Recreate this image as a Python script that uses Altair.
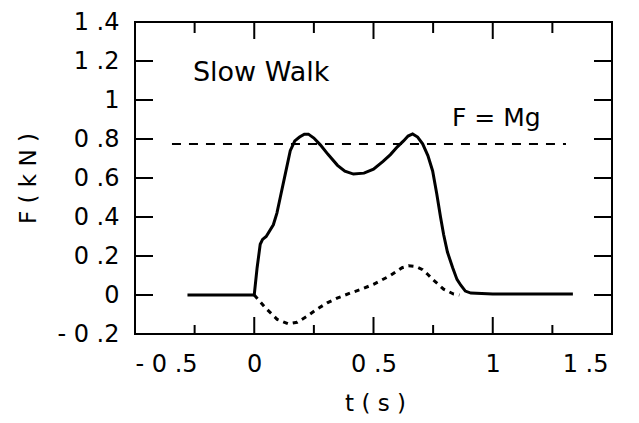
import altair as alt
import pandas as pd

# ---- data ----
solid_t = [-0.28, -0.1, 0.0, 0.012, 0.025, 0.035, 0.05, 0.08, 0.095, 0.109, 0.13, 0.151,
           0.17, 0.19, 0.21, 0.227, 0.25, 0.277, 0.31, 0.349, 0.38, 0.416, 0.46, 0.50,
           0.54, 0.571, 0.60, 0.626, 0.645, 0.664, 0.685, 0.706, 0.728, 0.748, 0.765,
           0.781, 0.794, 0.81, 0.832, 0.85, 0.866, 0.885, 0.908, 1.0, 1.336]
solid_f = [0.0, 0.0, 0.0, 0.14, 0.26, 0.285, 0.30, 0.36, 0.42, 0.50, 0.62, 0.74,
           0.79, 0.81, 0.825, 0.825, 0.805, 0.77, 0.72, 0.665, 0.635, 0.62, 0.625, 0.645,
           0.685, 0.72, 0.76, 0.79, 0.815, 0.826, 0.81, 0.775, 0.715, 0.636, 0.52,
           0.40, 0.31, 0.22, 0.14, 0.08, 0.05, 0.02, 0.01, 0.005, 0.005]

dotted_t = [0.0, 0.046, 0.096, 0.143, 0.18, 0.22, 0.26, 0.306, 0.35, 0.403, 0.45, 0.50,
            0.571, 0.62, 0.647, 0.68, 0.706, 0.728, 0.748, 0.794, 0.836, 0.86]
dotted_f = [0.0, -0.065, -0.125, -0.148, -0.14, -0.11, -0.075, -0.04, -0.015, 0.01, 0.03, 0.055,
            0.10, 0.14, 0.15, 0.145, 0.13, 0.105, 0.08, 0.03, 0.005, 0.0]

mg_t = [-0.345, 1.307]
mg_f = [0.775, 0.775]

x_tick_labels = [-0.5, 0, 0.5, 1, 1.5]
y_tick_labels = [-0.2, 0, 0.2, 0.4, 0.6, 0.8, 1, 1.2, 1.4]
x_major_ticks = [0.0, 0.5, 1.0]
x_minor_ticks = [-0.25, 0.25, 0.75, 1.25]
y_ticks = [0.0, 0.2, 0.4, 0.6, 0.8, 1.0, 1.2]

note_text = ["Slow Walk", "F = Mg"]
note_t = [-0.257, 0.829]
note_f = [1.141, 0.908]

# ---- chart ----
W, H = 477, 312
FONT = "DejaVu Sans"
spaced = "replace(replace('' + datum.value, '-', '- '), '.', ' .')"

xs = alt.Scale(domain=[-0.5, 1.5], nice=False, zero=False)
ys = alt.Scale(domain=[-0.2, 1.4], nice=False, zero=False)

xa = alt.Axis(values=x_tick_labels, labelExpr=spaced, labelFont=FONT, labelFontSize=24,
              labelPadding=18, labelColor="black", ticks=False, domain=False, grid=False,
              labelOffset={"condition": {"test": "datum.value == 1.5", "value": -4}, "value": 0},
              title="t ( s )", titleFont=FONT, titleFontSize=23, titleFontWeight="normal",
              titleColor="black", titleX=240, titleY=69, titleBaseline="middle")
ya = alt.Axis(values=y_tick_labels, labelExpr=spaced, labelFont=FONT, labelFontSize=24,
              labelPadding=16, labelColor="black", ticks=False, domain=False, grid=False,
              title="F ( k N )", titleFont=FONT, titleFontSize=23, titleFontWeight="normal",
              titleColor="black", titleX=-107, titleY=156, titleBaseline="middle",
              titleAlign="center", titleAngle=-90)

solid_df = pd.DataFrame({"t": solid_t, "f": solid_f})
dotted_df = pd.DataFrame({"t": dotted_t, "f": dotted_f})
mg_df = pd.DataFrame({"t": mg_t, "f": mg_f})

X = alt.X("t:Q", scale=xs, axis=xa)
Y = alt.Y("f:Q", scale=ys, axis=ya)

solid = alt.Chart(solid_df).mark_line(color="black", strokeWidth=3).encode(x=X, y=Y, order="t:Q")
dotted = alt.Chart(dotted_df).mark_line(color="black", strokeWidth=3, strokeDash=[5, 5]).encode(x=X, y=Y, order="t:Q")
mg = alt.Chart(mg_df).mark_line(color="black", strokeWidth=2, strokeDash=[9, 8]).encode(x=X, y=Y)

xmaj = pd.DataFrame({"t": x_major_ticks})
xmin = pd.DataFrame({"t": x_minor_ticks})
ytk = pd.DataFrame({"f": y_ticks})

tick_style = dict(color="black", strokeWidth=2)
bot_major = alt.Chart(xmaj).mark_rule(**tick_style).encode(x=X, y=alt.value(H), y2=alt.value(H - 17))
top_major = alt.Chart(xmaj).mark_rule(**tick_style).encode(x=X, y=alt.value(0), y2=alt.value(17))
bot_minor = alt.Chart(xmin).mark_rule(**tick_style).encode(x=X, y=alt.value(H), y2=alt.value(H - 9))
top_minor = alt.Chart(xmin).mark_rule(**tick_style).encode(x=X, y=alt.value(0), y2=alt.value(11))
left_t = alt.Chart(ytk).mark_rule(**tick_style).encode(y=Y, x=alt.value(0), x2=alt.value(18))
right_t = alt.Chart(ytk).mark_rule(**tick_style).encode(y=Y, x=alt.value(W), x2=alt.value(W - 18))

slow = alt.Chart(pd.DataFrame({"t": [note_t[0]], "f": [note_f[0]], "txt": [note_text[0]]})).mark_text(
    font=FONT, fontSize=27, align="left", baseline="middle", color="black").encode(x=X, y=Y, text="txt:N")
fmg = alt.Chart(pd.DataFrame({"t": [note_t[1]], "f": [note_f[1]], "txt": [note_text[1]]})).mark_text(
    font=FONT, fontSize=25, align="left", baseline="middle", color="black").encode(x=X, y=Y, text="txt:N")

chart = alt.layer(mg, dotted, solid, bot_major, top_major, bot_minor, top_minor, left_t, right_t,
                  slow, fmg).properties(
    width=W, height=H, autosize="none",
    padding={"left": 127, "top": 14, "right": 19, "bottom": 81},
    background="white",
).configure_view(stroke="black", strokeWidth=2)

chart.save("out.html", embed_options={"renderer": "svg", "actions": False})
